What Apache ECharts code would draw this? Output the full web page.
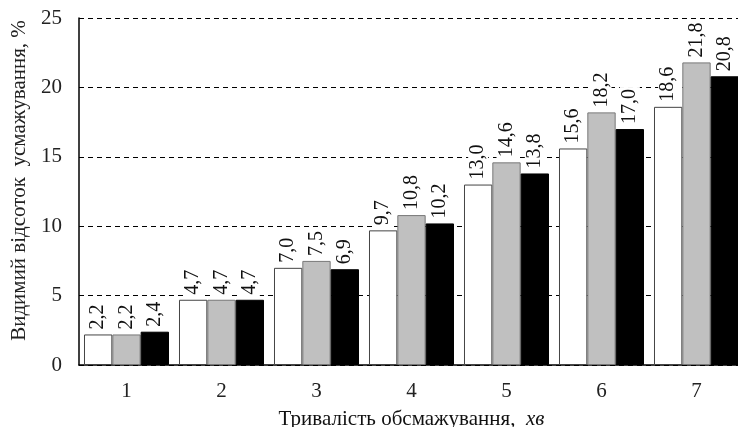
<!DOCTYPE html>
<html><head><meta charset="utf-8">
<script src="https://cdn.jsdelivr.net/npm/echarts@6/dist/echarts.min.js"></script>
<style>html,body{margin:0;padding:0;background:#fff}#c{width:738px;height:427px}</style>
</head><body><div id="c"></div>
<script>
const categories = ['1','2','3','4','5','6','7'];
const seriesWhite = [2.2, 4.7, 7.0, 9.7, 13.0, 15.6, 18.6];
const seriesGray = [2.2, 4.7, 7.5, 10.8, 14.6, 18.2, 21.8];
const seriesBlack = [2.4, 4.7, 6.9, 10.2, 13.8, 17.0, 20.8];
const yTicks = [0, 5, 10, 15, 20, 25];

const font = 'Liberation Serif';
const label = {
  show: true, position: 'top', rotate: 90, align: 'left', verticalAlign: 'middle',
  distance: 3, fontFamily: font, fontSize: 20, color: '#111',
  backgroundColor: '#fff', padding: [0, 2, 0, 2],
  formatter: p => p.value.toFixed(1).replace('.', ',')
};
function mk(name, data, fill, border) {
  return {
    name, type: 'bar', data, barGap: '0%', barCategoryGap: '10.5%',
    itemStyle: { color: fill, borderColor: border, borderWidth: 1 },
    label
  };
}
const chart = echarts.init(document.getElementById('c'), null, { renderer: 'canvas' });
chart.setOption({
  animation: false,
  backgroundColor: '#fff',
  grid: { left: 79, right: -6, top: 18, bottom: 62, containLabel: false, outerBoundsMode: 'none' },
  xAxis: {
    type: 'category', data: categories,
    axisLine: { lineStyle: { color: '#000', width: 1.5 } },
    axisTick: { show: false },
    axisLabel: { fontFamily: font, fontSize: 21, color: '#222', margin: 16 },
    name: '{a|Тривалість обсмажування,  }{b|хв}',
    nameLocation: 'middle', nameGap: 44,
    nameTextStyle: {
      rich: {
        a: { fontFamily: font, fontSize: 21, color: '#111' },
        b: { fontFamily: font, fontSize: 21, color: '#111', fontStyle: 'italic' }
      }
    }
  },
  yAxis: {
    type: 'value', min: yTicks[0], max: yTicks[yTicks.length - 1], interval: 5,
    axisLine: { show: true, lineStyle: { color: '#000', width: 1.5 } },
    axisTick: { show: false },
    axisLabel: { fontFamily: font, fontSize: 21, color: '#222', margin: 17 },
    splitLine: { lineStyle: { color: '#000', type: [5, 4], width: 1.2 } },
    name: 'Видимий відсоток  усмажування, %',
    nameLocation: 'middle', nameGap: 48,
    nameTextStyle: { fontFamily: font, fontSize: 21, color: '#222', padding: [0, 0, 0, 22] }
  },
  series: [
    mk('a', seriesWhite, '#fff', '#444'),
    mk('b', seriesGray, '#c0c0c0', '#777'),
    mk('c', seriesBlack, '#000', '#000')
  ]
});
</script></body></html>
